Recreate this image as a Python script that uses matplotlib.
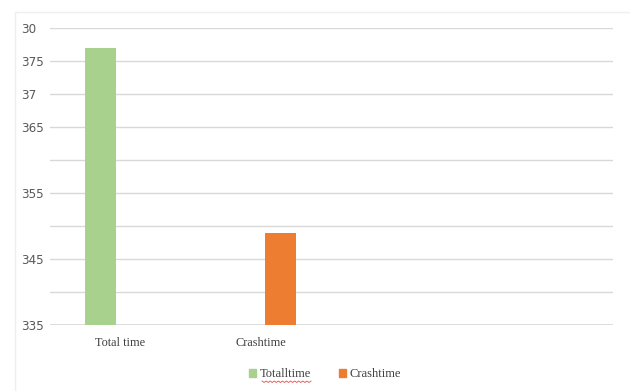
import numpy as np
import matplotlib
matplotlib.use("Agg")
import matplotlib.pyplot as plt
from matplotlib.patches import Rectangle
from matplotlib.lines import Line2D

categories = ["Total time", "Crashtime", "", ""]
series_names = ["Totalltime", "Crashtime"]
total_vals = [377, np.nan, np.nan, np.nan]
crash_vals = [np.nan, 349, np.nan, np.nan]
ytick_vals = [335, 340, 345, 350, 355, 360, 365, 370, 375, 380]
ytick_labels = ["335", "", "345", "", "355", "", "365", "37", "375", "30"]

green = "#A9D18E"
orange = "#ED7D31"

fig = plt.figure(figsize=(6.30, 3.91), dpi=100)
W, H = 630, 391
ax = fig.add_axes([50 / W, 1 - 325 / H, (613 - 50) / W, (325 - 28) / H])

x = np.arange(len(categories))
w = 0.22
off = 0.14
ax.bar(x - off, total_vals, width=w, color=green, label=series_names[0], zorder=3)
ax.bar(x + off, crash_vals, width=w, color=orange, label=series_names[1], zorder=3)

ax.set_xlim(-0.5, len(categories) - 0.5)
ax.set_ylim(ytick_vals[0], ytick_vals[-1])
ax.set_yticks(ytick_vals)
ax.set_yticklabels(ytick_labels, family="DejaVu Sans", stretch="condensed",
                   fontsize=9.5, color="#595959", ha="left")
ax.tick_params(axis="y", length=0, pad=21)
ax.set_xticks([0, 1])
ax.set_xticklabels(categories[:2], family="Liberation Serif", fontsize=8.8, color="#404040")
ax.tick_params(axis="x", length=0, pad=9)
ax.grid(axis="y", color="#D9D9D9", linewidth=1, zorder=0)
for s in ax.spines.values():
    s.set_visible(False)
ax.axhline(ytick_vals[0], color="#D9D9D9", linewidth=1.2, zorder=1)

# chart border
fig.patches.append(Rectangle((15 / W, -0.01), 1.2, 1 - 12 / H + 0.01, transform=fig.transFigure,
                             fill=False, edgecolor="#EFEFEF", linewidth=1))

handles = [Rectangle((0, 0), 1, 1, color=green), Rectangle((0, 0), 1, 1, color=orange)]
leg = fig.legend(handles, series_names, loc="center", bbox_to_anchor=(325 / W, 1 - 374 / H),
                 ncol=2, frameon=False, handlelength=0.6, handleheight=0.6, handletextpad=0.3,
                 columnspacing=2.2, prop={"family": "Liberation Serif", "size": 9})
for t in leg.get_texts():
    t.set_color("#404040")

# spell-check squiggle under legend text
xs = np.linspace(262, 311, 25)
ys = 381 + np.where(np.arange(25) % 2 == 0, 0, 1.5)
fig.add_artist(Line2D(xs / W, 1 - ys / H, transform=fig.transFigure, color="#E05050", linewidth=0.6))

fig.savefig("out.png", dpi=100)
